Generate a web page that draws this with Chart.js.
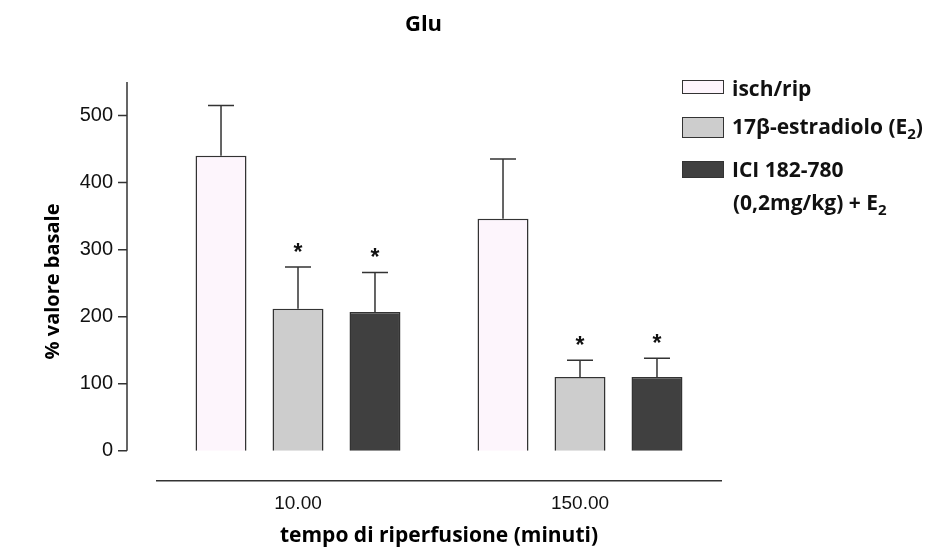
<!DOCTYPE html>
<html>
<head>
<meta charset="utf-8">
<script src="https://cdn.jsdelivr.net/npm/chart.js@4.4.1/dist/chart.umd.min.js"></script>
<style>
  body { margin: 0; background: #fff; }
  #wrap { position: relative; width: 939px; height: 547px; }
  #legend { position: absolute; left: 0; top: 0; font-family: "Open Sans", sans-serif; font-weight: bold; font-size: 21px; color: #111; }
  .sw { position: absolute; left: 682px; width: 42px; border: 1.5px solid #333; box-sizing: border-box; }
  .lt { position: absolute; left: 732px; line-height: 21px; white-space: nowrap; }
  .sub { font-size: 15px; position: relative; top: 5px; }
</style>
</head>
<body>
<div id="wrap">
  <canvas id="chart" width="939" height="547"></canvas>
  <div id="legend">
    <div class="sw" style="top:80px;height:14px;background:#fdf5fc"></div>
    <div class="lt" style="top:78px">isch/rip</div>
    <div class="sw" style="top:117px;height:21px;background:#cdcdcd"></div>
    <div class="lt" style="top:116px">17β-estradiolo (E<span class="sub">2</span>)</div>
    <div class="sw" style="top:161px;height:17px;background:#404040"></div>
    <div class="lt" style="top:159px">ICI 182-780</div>
    <div class="lt" style="top:192px;left:733px">(0,2mg/kg) + E<span class="sub">2</span></div>
  </div>
</div>
<script>
const categories = ['10.00', '150.00'];
const seriesNames = ['isch/rip', '17β-estradiolo (E2)', 'ICI 182-780 (0,2mg/kg) + E2'];
const seriesColors = ['#fdf5fc', '#cdcdcd', '#404040'];

// mean values (% valore basale)
const ischRip = [440, 346];
const estradiolo = [212, 110];
const ici = [207, 110];

// upper error (SEM)
const ischRipSem = [75, 89];
const estradioloSem = [62, 25];
const iciSem = [59, 28];

// significance stars
const ischRipSig = [false, false];
const estradioloSig = [true, true];
const iciSig = [true, true];

const yTicks = [0, 100, 200, 300, 400, 500];

const errorBars = {
  id: 'errorBars',
  afterDatasetsDraw(chart) {
    const ctx = chart.ctx;
    const y = chart.scales.y;
    ctx.save();
    ctx.strokeStyle = '#333';
    ctx.lineWidth = 1.5;
    ctx.fillStyle = '#111';
    ctx.font = 'bold 23px "Liberation Sans", Arial, sans-serif';
    ctx.textAlign = 'center';
    ctx.textBaseline = 'alphabetic';
    chart.data.datasets.forEach((ds, i) => {
      chart.getDatasetMeta(i).data.forEach((bar, j) => {
        const top = y.getPixelForValue(ds.data[j] + ds.sem[j]);
        ctx.beginPath();
        ctx.moveTo(bar.x, bar.y);
        ctx.lineTo(bar.x, top);
        ctx.moveTo(bar.x - 13, top);
        ctx.lineTo(bar.x + 13, top);
        ctx.stroke();
        if (ds.sig[j]) ctx.fillText('*', bar.x, top - 7);
      });
    });
    ctx.restore();
  }
};

// y axis line sits 30px left of the plot area
const offsetYAxis = {
  id: 'offsetYAxis',
  afterDraw(chart) {
    const ctx = chart.ctx;
    const y = chart.scales.y;
    const x0 = chart.chartArea.left - 30;
    ctx.save();
    ctx.strokeStyle = '#333';
    ctx.lineWidth = 1.5;
    ctx.beginPath();
    ctx.moveTo(x0, y.getPixelForValue(0));
    ctx.lineTo(x0, chart.chartArea.top);
    y.ticks.forEach(t => {
      const py = y.getPixelForValue(t.value);
      ctx.moveTo(x0 - 9, py);
      ctx.lineTo(x0, py);
    });
    ctx.stroke();
    ctx.restore();
  }
};

const ctx = document.getElementById('chart').getContext('2d');
new Chart(ctx, {
  type: 'bar',
  data: {
    labels: categories,
    datasets: [
      { label: seriesNames[0], data: ischRip, sem: ischRipSem, sig: ischRipSig, backgroundColor: seriesColors[0] },
      { label: seriesNames[1], data: estradiolo, sem: estradioloSem, sig: estradioloSig, backgroundColor: seriesColors[1] },
      { label: seriesNames[2], data: ici, sem: iciSem, sig: iciSig, backgroundColor: seriesColors[2] }
    ]
  },
  options: {
    responsive: false,
    animation: false,
    layout: { padding: { left: 0, right: 92, top: 0, bottom: 0 } },
    datasets: {
      bar: {
        borderColor: '#333',
        borderWidth: 1.5,
        categoryPercentage: 0.819,
        barPercentage: 0.662
      }
    },
    scales: {
      x: {
        grid: { display: false, drawTicks: false },
        border: { display: true, color: '#333', width: 1.5 },
        ticks: {
          padding: 11,
          color: '#111',
          font: { family: '"Liberation Sans", Arial, sans-serif', size: 19 }
        },
        title: {
          display: true,
          text: 'tempo di riperfusione (minuti)',
          color: '#000',
          font: { family: '"Open Sans", sans-serif', weight: 'bold', size: 21, lineHeight: 1 },
          padding: { top: 0, bottom: 0 }
        },
        afterFit: s => { s.height = 66; }
      },
      y: {
        min: -45,
        max: 550,
        grid: { display: false, drawTicks: false },
        border: { display: false },
        afterBuildTicks: s => { s.ticks = yTicks.map(v => ({ value: v })); },
        ticks: {
          padding: 44,
          color: '#111',
          font: { family: '"Liberation Sans", Arial, sans-serif', size: 20 }
        },
        title: {
          display: true,
          text: '% valore basale',
          color: '#000',
          font: { family: '"Open Sans", sans-serif', weight: 'bold', size: 20, lineHeight: 1 },
          padding: { top: 43, bottom: 0 }
        },
        afterFit: s => { s.width = 157; }
      },
      yR: {
        position: 'right',
        grid: { display: false, drawTicks: false },
        border: { display: false },
        ticks: { display: false },
        afterFit: s => { s.width = 126; }
      }
    },
    plugins: {
      legend: { display: false },
      tooltip: { enabled: false },
      title: {
        display: true,
        text: 'Glu',
        color: '#000',
        font: { family: '"Open Sans", sans-serif', weight: 'bold', size: 22, lineHeight: 1.2 },
        padding: { top: 12, bottom: 43.6 }
      }
    }
  },
  plugins: [errorBars, offsetYAxis]
});
</script>
</body>
</html>
